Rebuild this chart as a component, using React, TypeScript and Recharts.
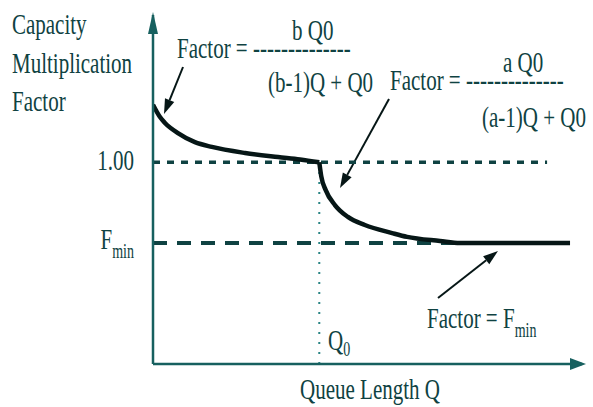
import React from 'react';
import { LineChart, Line, XAxis, YAxis, ReferenceLine, Customized } from 'recharts';

// queue length Q (x) vs capacity multiplication factor (y)
const Q0 = 50;
const FMIN = 0.6;
const Q_MAX = 129;
const F_MAX = 1.73;

const upperCurve = [
  { q: 0, f: 1.285 },
  { q: 2.1, f: 1.224 },
  { q: 3.6, f: 1.195 },
  { q: 7.5, f: 1.145 },
  { q: 12.6, f: 1.1 },
  { q: 17.7, f: 1.076 },
  { q: 27.7, f: 1.046 },
  { q: 37.6, f: 1.026 },
  { q: 44.2, f: 1.014 },
  { q: 50, f: 1.0 },
];

const lowerCurve = [
  { q: 50, f: 1.0 },
  { q: 50.6, f: 0.93 },
  { q: 51.9, f: 0.863 },
  { q: 54.7, f: 0.788 },
  { q: 58.6, f: 0.729 },
  { q: 63.7, f: 0.689 },
  { q: 71.9, f: 0.649 },
  { q: 76.4, f: 0.63 },
  { q: 86.3, f: 0.61 },
  { q: 92.3, f: 0.6 },
  { q: 125.4, f: 0.6 },
];

const yTicks = [FMIN, 1.0];
const oneLineEnd = 118.5;
const fminLineEnd = 92;

const INK = '#0f4242';
const AXIS = '#17605f';
const CURVE = '#061616';
const FONT = "'Liberation Serif', 'Times New Roman', serif";

// serif text stretched vertically like the scanned figure
function T({ x, y, children, size = 21, anchor = 'start' }: any) {
  return (
    <text
      x={0}
      y={0}
      transform={`translate(${x},${y}) scale(1,1.45)`}
      fontFamily={FONT}
      fontSize={size}
      fill={INK}
      textAnchor={anchor}
    >
      {children}
    </text>
  );
}

function Arrow({ x1, y1, x2, y2 }: any) {
  const len = 15;
  const hw = 5;
  const dx = x2 - x1;
  const dy = y2 - y1;
  const d = Math.sqrt(dx * dx + dy * dy);
  const ux = dx / d;
  const uy = dy / d;
  const bx = x2 - ux * len;
  const by = y2 - uy * len;
  const pts = `${x2},${y2} ${bx - uy * hw},${by + ux * hw} ${bx + uy * hw},${by - ux * hw}`;
  return (
    <g>
      <line x1={x1} y1={y1} x2={bx} y2={by} stroke={CURVE} strokeWidth={2} />
      <polygon points={pts} fill={CURVE} />
    </g>
  );
}

function Annotations() {
  return (
    <g>
      {/* axis arrowheads */}
      <polygon points="153,12 148,34 158,34" fill={AXIS} />
      <polygon points="586,364 570,358 570,370" fill={AXIS} />

      <T x={12} y={34}>Capacity</T>
      <T x={12} y={73}>Multiplication</T>
      <T x={12} y={111}>Factor</T>

      <T x={292} y={40}>b Q0</T>
      <T x={177} y={58}>Factor = --------------</T>
      <T x={268} y={92}>(b-1)Q + Q0</T>

      <T x={503} y={72}>a Q0</T>
      <T x={390} y={90}>Factor = --------------</T>
      <T x={482} y={127}>(a-1)Q + Q0</T>

      <T x={427} y={328}>
        Factor = F<tspan fontSize={14} dy={6}>min</tspan>
      </T>

      <T x={328} y={350}>
        Q<tspan fontSize={14} dy={4}>0</tspan>
      </T>

      <T x={370} y={399} anchor="middle">Queue Length Q</T>

      <Arrow x1={183} y1={67} x2={164} y2={114} />
      <Arrow x1={389} y1={99} x2={340} y2={188} />
      <Arrow x1={438} y1={298} x2={498} y2={251} />
    </g>
  );
}

function YTick({ x, y, payload }: any) {
  if (payload.value === 1) {
    return (
      <T x={x} y={y + 8} anchor="end">
        1.00
      </T>
    );
  }
  return (
    <T x={x} y={y + 6} anchor="end">
      F<tspan fontSize={14} dy={6}>min</tspan>
    </T>
  );
}

export default function App() {
  return (
    <div style={{ position: 'absolute', left: 0, top: 0, background: '#fff' }}>
      <LineChart width={593} height={407} margin={{ top: 15, right: 11, left: 93, bottom: 13 }}>
        <XAxis
          type="number"
          dataKey="q"
          domain={[0, Q_MAX]}
          allowDataOverflow
          tick={false}
          tickLine={false}
          height={30}
          axisLine={{ stroke: AXIS, strokeWidth: 2.5 }}
        />
        <YAxis
          type="number"
          domain={[0, F_MAX]}
          allowDataOverflow
          ticks={yTicks}
          tick={<YTick />}
          tickLine={false}
          tickSize={0}
          tickMargin={19}
          width={60}
          axisLine={{ stroke: AXIS, strokeWidth: 2.5 }}
        />
        <ReferenceLine
          segment={[{ x: 0, y: 1 }, { x: oneLineEnd, y: 1 }]}
          stroke={INK}
          strokeWidth={3.5}
          strokeDasharray="7 7"
        />
        <ReferenceLine
          segment={[{ x: 0, y: FMIN }, { x: fminLineEnd, y: FMIN }]}
          stroke={INK}
          strokeWidth={4}
          strokeDasharray="14 10"
        />
        <ReferenceLine
          segment={[{ x: Q0, y: 0 }, { x: Q0, y: 1 }]}
          stroke="#2a8585"
          strokeWidth={2}
          strokeDasharray="2 8"
        />
        <Line
          data={upperCurve}
          dataKey="f"
          type="monotone"
          stroke={CURVE}
          strokeWidth={4.5}
          dot={false}
          isAnimationActive={false}
        />
        <Line
          data={lowerCurve}
          dataKey="f"
          type="monotone"
          stroke={CURVE}
          strokeWidth={4.5}
          dot={false}
          isAnimationActive={false}
        />
        <Customized component={<Annotations />} />
      </LineChart>
    </div>
  );
}
